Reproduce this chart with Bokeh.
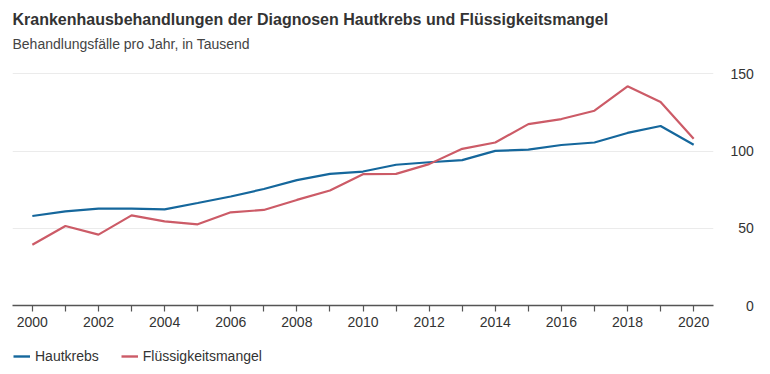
from bokeh.plotting import figure
from bokeh.layouts import column
from bokeh.models import FixedTicker, Legend, LegendItem, Range1d, Title
from bokeh.embed import file_html
from bokeh.resources import INLINE

years = list(range(2000, 2021))
hautkrebs = [58.0, 61.0, 62.8, 62.8, 62.3, 66.4, 70.6, 75.5, 81.2, 85.3, 86.8,
             91.2, 92.8, 94.2, 100.2, 101.0, 104.0, 105.6, 111.8, 116.3, 104.2]
fluessig = [39.4, 51.5, 45.9, 58.4, 54.5, 52.6, 60.4, 61.9, 68.4, 74.5, 85.1,
            85.3, 91.6, 101.5, 105.6, 117.5, 120.8, 126.2, 142.0, 131.8, 108.0]
y_ticks = [0, 50, 100, 150]
title_text = "Krankenhausbehandlungen der Diagnosen Hautkrebs und Flüssigkeitsmangel"
subtitle_text = "Behandlungsfälle pro Jahr, in Tausend"
series_names = ["Hautkrebs", "Flüssigkeitsmangel"]

FONT = "Liberation Sans"
BLUE = "#15679c"
RED = "#cc5b67"

# ---------------- main chart ----------------
p = figure(frame_width=701, frame_height=240, output_backend="svg", toolbar_location=None,
           x_range=Range1d(1999.4, 2020.6), y_range=Range1d(0, 155.5),
           y_axis_location="right",
           min_border_left=12, min_border_right=41, min_border_top=65, min_border_bottom=35)
p.outline_line_color = None
p.background_fill_color = "white"
p.border_fill_color = "white"

p.line(years, hautkrebs, line_color=BLUE, line_width=2.2)
p.line(years, fluessig, line_color=RED, line_width=2.2)

# x axis
xa = p.xaxis[0]
xa.ticker = FixedTicker(ticks=years)
xa.major_label_overrides = {y: ("" if y % 2 else str(y)) for y in years}
xa.axis_line_color = "#555555"
xa.axis_line_width = 1.5
xa.major_tick_line_color = "#555555"
xa.major_tick_line_width = 1.2
xa.major_tick_out = 6
xa.major_tick_in = 0
xa.minor_tick_line_color = None
xa.minor_tick_out = 0
xa.major_label_standoff = 5
xa.major_label_text_font = FONT
xa.major_label_text_font_size = "14px"
xa.major_label_text_color = "#333333"

# y axis (right)
ya = p.yaxis[0]
ya.ticker = FixedTicker(ticks=y_ticks)
maxlen = max(len(str(t)) for t in y_ticks)
ya.major_label_overrides = {t: "\u2007" * (maxlen - len(str(t))) + str(t) for t in y_ticks}
ya.axis_line_color = None
ya.major_tick_line_color = None
ya.minor_tick_line_color = None
ya.major_tick_out = 0
ya.minor_tick_out = 0
ya.major_label_standoff = 17
ya.major_label_text_font = FONT
ya.major_label_text_font_size = "14px"
ya.major_label_text_color = "#333333"

p.xgrid.grid_line_color = None
p.ygrid.grid_line_color = "#ebebeb"
p.ygrid.grid_line_width = 1
p.ygrid.ticker = FixedTicker(ticks=[50, 100, 150])

# titles
p.title.text = title_text
p.title.text_font = FONT
p.title.text_font_size = "16px"
p.title.text_font_style = "bold"
p.title.text_color = "#333333"
p.title.standoff = -17
p.title.offset = 0
p.add_layout(Title(text=subtitle_text, text_font=FONT, text_font_size="14px",
                   text_font_style="normal", text_color="#444444", standoff=28, offset=0),
             "above")

# ---------------- legend strip ----------------
lg = figure(width=754, height=34, output_backend="svg", toolbar_location=None,
            x_range=Range1d(0, 1), y_range=Range1d(0, 1),
            x_axis_type=None, y_axis_type=None,
            min_border_left=0, min_border_right=0, min_border_top=0, min_border_bottom=0)
lg.outline_line_color = None
lg.grid.visible = False
lg.background_fill_color = "white"
lg.border_fill_color = "white"
l1 = lg.line(years, hautkrebs, line_color=BLUE, line_width=2.4)
l2 = lg.line(years, fluessig, line_color=RED, line_width=2.4)

legend = Legend(items=[LegendItem(label=series_names[0], renderers=[l1]),
                       LegendItem(label=series_names[1], renderers=[l2])],
                location=(1, 10.5), orientation="horizontal",
                padding=0, margin=0, spacing=22,
                glyph_width=17, glyph_height=16, label_height=16, label_standoff=5,
                label_text_font=FONT, label_text_font_size="14px", label_text_color="#333333",
                border_line_color=None, background_fill_alpha=0)
lg.add_layout(legend, "center")

layout = column(p, lg, spacing=0)
open("out.html", "w").write(file_html(layout, INLINE))
